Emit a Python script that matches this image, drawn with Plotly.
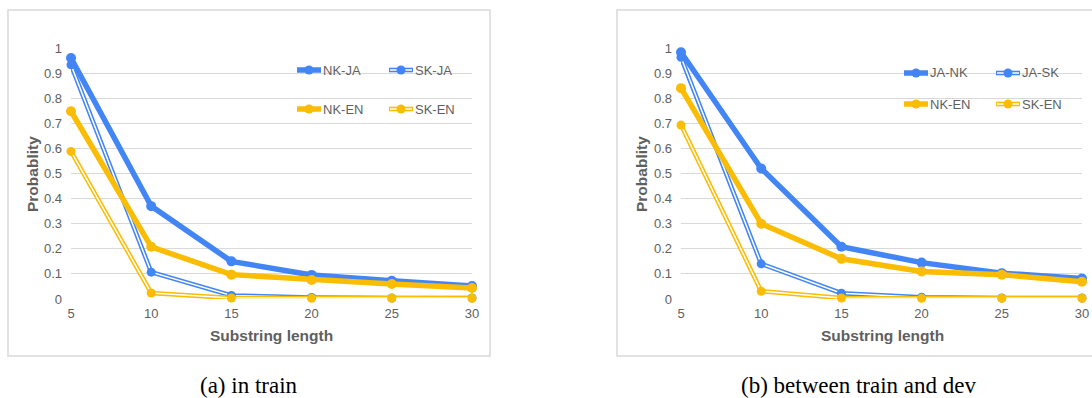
import plotly.graph_objects as go

W, H = 1092, 398

lengths = [5, 10, 15, 20, 25, 30]

# (a) in train
train_nk_ja = [0.96, 0.37, 0.15, 0.096, 0.073, 0.052]
train_sk_ja = [0.933, 0.107, 0.014, 0.006, 0.004, 0.004]
train_nk_en = [0.748, 0.208, 0.097, 0.076, 0.060, 0.044]
train_sk_en = [0.588, 0.024, 0.004, 0.003, 0.003, 0.003]

# (b) between train and dev
dev_ja_nk = [0.983, 0.52, 0.208, 0.145, 0.103, 0.082]
dev_ja_sk = [0.963, 0.14, 0.023, 0.007, 0.004, 0.004]
dev_nk_en = [0.84, 0.30, 0.16, 0.11, 0.097, 0.069]
dev_sk_en = [0.693, 0.031, 0.004, 0.003, 0.003, 0.003]

BLUE = "#4285F4"
YELLOW = "#FBBC04"
GRID = "#d9d9d9"
TXT = "#5f5f5f"
FONT = "Liberation Sans, Arial, sans-serif"


def px(x):
    return x / W


def py(y):
    return 1 - y / H


fig = go.Figure()


def add_thick(name, ys, color, xa, ya):
    fig.add_trace(go.Scatter(
        x=lengths, y=ys, name=name, mode="lines+markers",
        line=dict(color=color, width=5.5),
        marker=dict(color=color, size=10),
        xaxis=xa, yaxis=ya, showlegend=False, cliponaxis=False, hoverinfo="skip"))


def add_double(name, ys, color, xa, ya):
    fig.add_trace(go.Scatter(
        x=lengths, y=ys, name=name, mode="lines",
        line=dict(color=color, width=4.6),
        xaxis=xa, yaxis=ya, showlegend=False, cliponaxis=False, hoverinfo="skip"))
    fig.add_trace(go.Scatter(
        x=lengths, y=ys, name=name, mode="lines+markers",
        line=dict(color="white", width=1.5),
        marker=dict(color=color, size=9),
        xaxis=xa, yaxis=ya, showlegend=False, cliponaxis=False, hoverinfo="skip"))


add_thick("NK-JA", train_nk_ja, BLUE, "x", "y")
add_double("SK-JA", train_sk_ja, BLUE, "x", "y")
add_thick("NK-EN", train_nk_en, YELLOW, "x", "y")
add_double("SK-EN", train_sk_en, YELLOW, "x", "y")

add_thick("JA-NK", dev_ja_nk, BLUE, "x2", "y2")
add_double("JA-SK", dev_ja_sk, BLUE, "x2", "y2")
add_thick("NK-EN", dev_nk_en, YELLOW, "x2", "y2")
add_double("SK-EN", dev_sk_en, YELLOW, "x2", "y2")

ydom = [py(299), py(48)]
xdom1 = [px(71), px(472)]
xdom2 = [px(681), px(1082)]

xcommon = dict(range=[5, 30], tickvals=lengths, showgrid=False, zeroline=False,
               showline=False, tickfont=dict(family=FONT, size=13, color=TXT),
               ticklabelstandoff=5, automargin=False)
ycommon = dict(range=[0, 1], showgrid=True, gridcolor=GRID, gridwidth=1,
               zeroline=False, showline=False, automargin=False,
               tickvals=[0, 0.1, 0.2, 0.3, 0.4, 0.5, 0.6, 0.7, 0.8, 0.9, 1],
               ticktext=["0", "0.1", "0.2", "0.3", "0.4", "0.5", "0.6", "0.7", "0.8", "0.9", "1"],
               tickfont=dict(family=FONT, size=13, color=TXT), ticklabelstandoff=8)

shapes = []
annotations = []

# panel frames
shapes.append(dict(type="rect", xref="paper", yref="paper", x0=px(8), x1=px(490),
                   y0=py(356), y1=py(10), line=dict(color=GRID, width=1.5)))
shapes.append(dict(type="rect", xref="paper", yref="paper", x0=px(617), x1=px(1110),
                   y0=py(356), y1=py(10), line=dict(color=GRID, width=1.5)))


def legend_item(x0, y, label, color, double):
    x1 = x0 + 24
    if double:
        shapes.append(dict(type="line", xref="paper", yref="paper", x0=px(x0), x1=px(x1),
                           y0=py(y), y1=py(y), line=dict(color=color, width=4.6)))
        shapes.append(dict(type="line", xref="paper", yref="paper", x0=px(x0 + 1), x1=px(x1 - 1),
                           y0=py(y), y1=py(y), line=dict(color="white", width=1.5)))
    else:
        shapes.append(dict(type="line", xref="paper", yref="paper", x0=px(x0), x1=px(x1),
                           y0=py(y), y1=py(y), line=dict(color=color, width=5.5)))
    cx = (x0 + x1) / 2
    r = 4.5
    shapes.append(dict(type="circle", xref="paper", yref="paper", x0=px(cx - r), x1=px(cx + r),
                       y0=py(y + r), y1=py(y - r), fillcolor=color, line=dict(width=0)))
    annotations.append(dict(xref="paper", yref="paper", x=px(x1), y=py(y), text=label,
                            showarrow=False, xanchor="left", yanchor="middle",
                            font=dict(family=FONT, size=13, color=TXT)))


legend_item(297, 70, "NK-JA", BLUE, False)
legend_item(389, 70, "SK-JA", BLUE, True)
legend_item(297, 109, "NK-EN", YELLOW, False)
legend_item(389, 109, "SK-EN", YELLOW, True)

legend_item(904, 73, "JA-NK", BLUE, False)
legend_item(996, 73, "JA-SK", BLUE, True)
legend_item(904, 104, "NK-EN", YELLOW, False)
legend_item(996, 104, "SK-EN", YELLOW, True)

# axis titles
for xc, yx in [(271, 32), (882, 641)]:
    annotations.append(dict(xref="paper", yref="paper", x=px(xc), y=py(335),
                            text="<b>Substring length</b>", showarrow=False,
                            xanchor="center", yanchor="middle",
                            font=dict(family=FONT, size=15.5, color=TXT)))
    annotations.append(dict(xref="paper", yref="paper", x=px(yx), y=py(174),
                            text="<b>Probablity</b>", showarrow=False, textangle=-90,
                            xanchor="center", yanchor="middle",
                            font=dict(family=FONT, size=15.5, color=TXT)))

# captions
SERIF = "Liberation Serif, Times New Roman, serif"
annotations.append(dict(xref="paper", yref="paper", x=px(249), y=py(385), text="(a) in train",
                        showarrow=False, xanchor="center", yanchor="middle",
                        font=dict(family=SERIF, size=23, color="black")))
annotations.append(dict(xref="paper", yref="paper", x=px(859), y=py(385), text="(b) between train and dev",
                        showarrow=False, xanchor="center", yanchor="middle",
                        font=dict(family=SERIF, size=23, color="black")))

fig.update_layout(
    width=W, height=H, autosize=False,
    margin=dict(l=0, r=0, t=0, b=0, pad=0),
    paper_bgcolor="white", plot_bgcolor="white",
    showlegend=False,
    hovermode=False,
    xaxis=dict(domain=xdom1, anchor="y", **xcommon),
    yaxis=dict(domain=ydom, anchor="x", **ycommon),
    xaxis2=dict(domain=xdom2, anchor="y2", **xcommon),
    yaxis2=dict(domain=ydom, anchor="x2", **ycommon),
    shapes=shapes,
    annotations=annotations,
)

fig.write_html(
    "out.html",
    config={"displayModeBar": False, "responsive": False},
    post_script="document.body.style.margin='0';document.body.style.overflow='hidden';",
)
